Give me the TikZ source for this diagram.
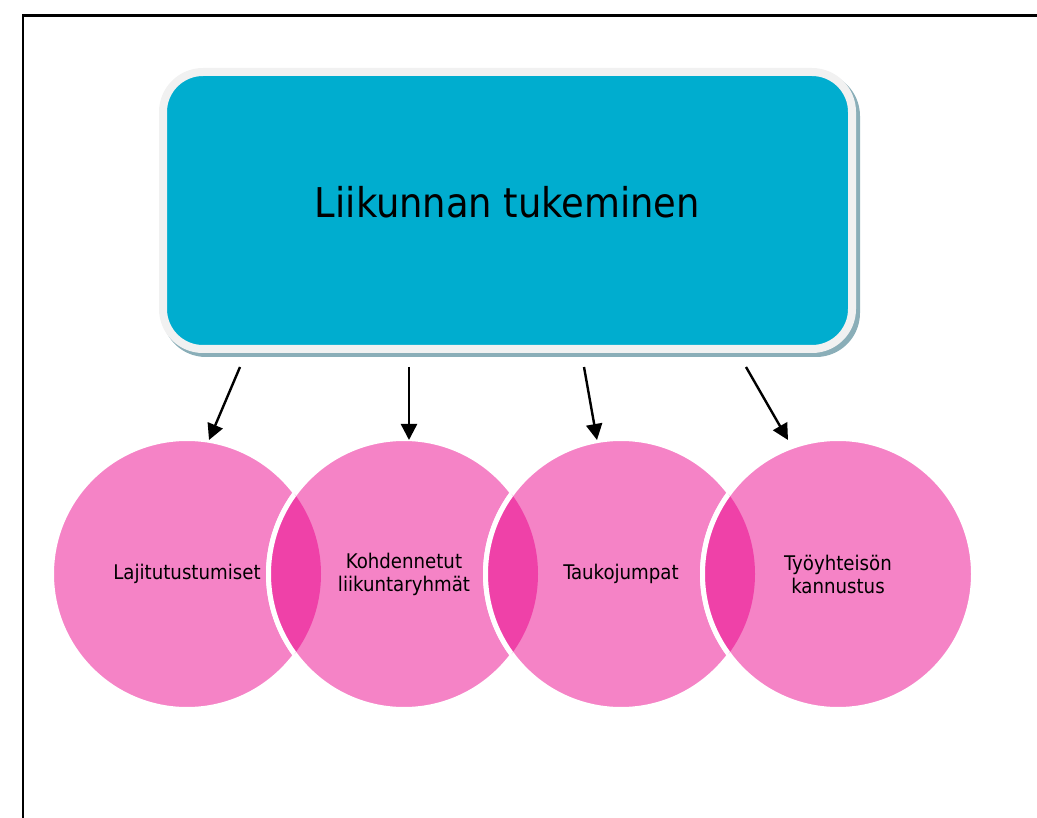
\documentclass[tikz,border=0pt]{standalone}
\usepackage{fontspec}
\usetikzlibrary{arrows.meta}
\newfontfamily\tah{DejaVu Sans Condensed}
\definecolor{boxblue}{HTML}{00ADCF}
\definecolor{boxgrey}{HTML}{F1F1F1}
\definecolor{boxshadow}{HTML}{8AAEB8}
\definecolor{pinklight}{HTML}{F583C6}
\definecolor{pinkdark}{HTML}{EF41A8}
\begin{document}
\begin{tikzpicture}[x=1pt,y=-1pt,
  framestyle/.style={line width=2.5pt,black},
  mainbox/.style={draw=boxgrey,fill=boxblue,line width=8pt,rounded corners=40pt,
    minimum width=689pt,minimum height=277pt,inner sep=0pt},
  titletext/.style={font=\tah\fontsize{41}{48}\selectfont,inner sep=0pt},
  bubble/.style={circle,fill=pinklight,draw=white,line width=5pt,
    minimum size=271pt,inner sep=0pt,align=center,
    font=\tah\fontsize{20.2}{23}\selectfont},
  conn/.style={line width=2.4pt,-{Triangle[length=16pt,width=16pt]}}]
\useasboundingbox (0,0) rectangle (1037,818);
\begin{scope}
\clip (0,0) rectangle (1037,818);
\draw[framestyle] (1045,15.5) -- (23,15.5) -- (23,830);
\end{scope}
% shadow of box
\fill[boxshadow,rounded corners=44pt] (162,72) rectangle (860,357);
\node[mainbox] (box) at (507.5,210.5) {};
\node[titletext] (title) at (507.5,202.5) {Liikunnan tukeminen};
% circles
\node[bubble] (c1) at (187,574) {Lajitutustumiset};
\node[bubble] (c2) at (404,574) {Kohdennetut\\liikuntaryhmät};
\node[bubble] (c3) at (621,574) {Taukojumpat};
\node[bubble] (c4) at (838,574) {Työyhteisön\\kannustus};
% lenses
\foreach \a/\b in {c1/c2,c2/c3,c3/c4}{
  \begin{scope}
    \clip (\a.center) circle (134pt);
    \fill[pinkdark] (\b.center) circle (135.5pt);
    \draw[white,line width=5pt] (\b.center) circle (135.5pt);
  \end{scope}
}
% arrows
\coordinate (a1s) at (240,367); \coordinate (a1e) at (209,440);
\coordinate (a2s) at (409,367); \coordinate (a2e) at (409,440);
\coordinate (a3s) at (584,367); \coordinate (a3e) at (597,440);
\coordinate (a4s) at (746,367); \coordinate (a4e) at (788,440);
\draw[conn] (a1s) -- (a1e);
\draw[conn] (a2s) -- (a2e);
\draw[conn] (a3s) -- (a3e);
\draw[conn] (a4s) -- (a4e);
\end{tikzpicture}
\end{document}
